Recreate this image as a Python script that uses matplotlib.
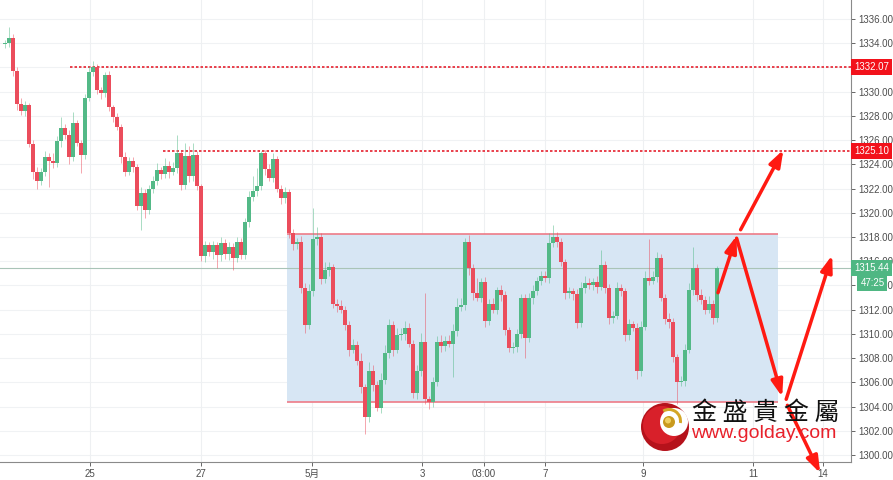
import numpy as np
import matplotlib
matplotlib.use("Agg")
import matplotlib.pyplot as plt
from matplotlib.patches import Circle, Wedge
from matplotlib import transforms

plt.rcParams['font.family'] = ['Liberation Sans', 'Noto Sans CJK TC']

# closes of each candle (opens follow the previous close)
first_open = 1333.9
closes = [
    1334.0, 1334.4, 1331.7, 1329.0, 1328.4, 1328.9, 1325.7, 1323.4, 1322.6, 1323.4,
    1324.6, 1324.3, 1324.1, 1325.9, 1327.0, 1326.4, 1324.6, 1327.4, 1325.8, 1324.8,
    1329.5, 1331.6, 1332.0, 1330.1, 1329.9, 1331.4, 1328.7, 1327.9, 1327.1, 1324.6,
    1323.4, 1324.3, 1323.8, 1320.6, 1321.6, 1320.2, 1322.0, 1322.6, 1323.5, 1323.2,
    1323.9, 1323.4, 1323.7, 1324.9, 1322.3, 1324.7, 1323.0, 1324.8, 1322.2, 1316.4,
    1317.3, 1316.8, 1317.3, 1316.5, 1317.5, 1316.6, 1317.2, 1316.3, 1317.6, 1316.5,
    1319.2, 1321.3, 1321.8, 1322.2, 1324.9, 1323.6, 1322.9, 1324.4, 1322.0, 1321.2,
    1321.7, 1318.3, 1317.4, 1317.6, 1313.8, 1310.7, 1313.5, 1317.8, 1318.0, 1314.5,
    1315.3, 1315.5, 1312.5, 1312.3, 1312.0, 1310.7, 1308.7, 1309.1, 1307.8, 1305.6,
    1303.1, 1306.9, 1305.8, 1303.9, 1306.2, 1308.4, 1310.7, 1308.7, 1309.9, 1310.0,
    1310.5, 1309.2, 1305.1, 1306.9, 1309.3, 1304.6, 1304.4, 1306.0, 1309.3, 1309.0,
    1309.4, 1309.2, 1310.2, 1312.2, 1312.4, 1317.6, 1315.4, 1313.4, 1313.0, 1314.3,
    1311.1, 1312.5, 1312.0, 1313.6, 1313.2, 1310.3, 1308.8, 1308.9, 1310.0, 1313.0,
    1309.7, 1313.0, 1313.5, 1314.4, 1314.8, 1314.6, 1317.5, 1318.0, 1317.6, 1315.9,
    1313.4, 1313.5, 1313.3, 1310.9, 1313.8, 1314.2, 1314.0, 1314.3, 1313.9, 1315.7,
    1313.8, 1311.3, 1311.5, 1313.8, 1313.5, 1309.9, 1310.8, 1310.5, 1306.9, 1310.6,
    1314.6, 1314.4, 1314.7, 1316.3, 1313.0, 1311.2, 1311.0, 1308.1, 1306.0, 1306.1,
    1308.7, 1313.6, 1315.4, 1313.2, 1312.8, 1312.0, 1312.5, 1311.3, 1315.44,
]
# wick lengths above / below the body
upper_wick = [
    0.3, 0.9, 0.4, 0.3, 0.5, 0.3, 0.2, 0.3, 0.4, 0.3,
    0.5, 0.3, 0.6, 0.4, 0.9, 0.3, 0.4, 0.9, 0.3, 0.2,
    0.3, 0.5, 0.5, 0.3, 0.3, 0.2, 0.3, 0.2, 0.3, 0.2,
    0.4, 0.3, 0.3, 0.2, 0.5, 0.4, 0.3, 0.4, 0.6, 0.3,
    0.6, 0.4, 0.5, 1.5, 0.3, 1.1, 0.8, 1.0, 0.3, 0.2,
    0.4, 0.3, 0.4, 0.3, 0.5, 0.3, 0.4, 0.3, 0.4, 0.3,
    0.4, 0.5, 1.2, 1.5, 0.2, 0.3, 0.4, 0.5, 0.3, 0.3,
    0.4, 0.3, 0.4, 0.3, 0.5, 0.4, 0.6, 2.6, 0.8, 0.3,
    0.6, 0.4, 0.3, 0.4, 0.5, 0.3, 0.4, 0.5, 0.3, 0.6,
    0.3, 0.8, 0.5, 0.3, 0.6, 0.7, 0.5, 0.4, 0.6, 0.5,
    0.6, 0.4, 0.3, 0.5, 0.8, 4.1, 0.3, 0.4, 0.5, 0.6,
    0.4, 0.5, 0.6, 0.8, 0.6, 0.3, 0.6, 0.4, 1.2, 0.3,
    0.4, 0.4, 0.5, 0.3, 0.4, 0.3, 0.3, 0.4, 0.4, 0.3,
    0.3, 0.4, 0.5, 0.3, 0.4, 0.4, 0.8, 1.0, 0.4, 0.3,
    0.3, 0.4, 0.3, 0.4, 0.5, 0.6, 0.4, 0.3, 0.5, 1.2,
    0.3, 0.3, 0.4, 0.5, 0.3, 0.3, 0.4, 0.3, 0.4, 0.5,
    0.6, 3.2, 0.5, 0.5, 0.3, 0.3, 0.5, 0.3, 0.2, 0.4,
    0.5, 0.6, 1.8, 0.4, 0.5, 0.3, 0.6, 0.3, 0.2,
]
lower_wick = [
    0.3, 0.3, 0.4, 0.5, 0.3, 0.4, 0.3, 0.6, 0.6, 0.3,
    0.4, 2.2, 0.4, 0.3, 0.5, 0.3, 0.6, 0.3, 0.3, 1.5,
    0.4, 0.3, 0.3, 0.3, 0.5, 0.3, 0.3, 0.4, 0.3, 0.5,
    0.4, 0.3, 0.4, 0.4, 2.0, 0.6, 0.3, 0.4, 0.3, 0.4,
    0.3, 0.5, 0.3, 0.4, 0.4, 0.3, 0.5, 0.4, 0.3, 0.4,
    0.5, 0.4, 0.6, 1.1, 0.5, 0.4, 0.5, 1.0, 0.4, 0.3,
    0.3, 0.4, 0.3, 0.4, 0.3, 0.5, 0.3, 0.4, 0.3, 0.5,
    0.4, 0.4, 0.5, 0.4, 0.4, 0.6, 0.3, 0.4, 0.5, 0.4,
    0.3, 0.5, 0.4, 0.5, 0.3, 0.4, 0.5, 0.3, 0.4, 0.5,
    1.4, 0.4, 0.5, 0.3, 0.4, 0.3, 0.4, 0.5, 0.3, 0.4,
    0.5, 0.3, 0.4, 0.5, 0.4, 0.4, 0.6, 0.4, 0.3, 0.5,
    0.4, 0.3, 2.8, 0.4, 0.3, 0.4, 0.5, 0.6, 0.3, 0.4,
    0.5, 0.4, 0.3, 0.4, 0.5, 0.4, 0.3, 0.4, 0.4, 0.3,
    1.7, 0.4, 0.5, 0.3, 0.4, 0.3, 0.4, 0.3, 0.4, 0.3,
    0.5, 0.4, 0.5, 0.4, 0.3, 0.4, 0.3, 0.4, 0.5, 0.3,
    0.4, 0.5, 0.4, 0.3, 0.4, 0.5, 0.4, 0.3, 0.6, 0.4,
    0.3, 0.4, 0.3, 0.4, 0.3, 0.4, 0.5, 0.4, 1.8, 0.3,
    0.4, 0.3, 0.4, 0.5, 0.3, 0.4, 0.3, 0.5, 0.3,
]

x_tick_pos = [21.25, 49, 76.75, 104.25, 119.75, 135, 159.5, 187, 204.5]
x_tick_labels = ['25', '27', '5月', '3', '03:00', '7', '9', '11', '14']
y_ticks = np.arange(1300, 1337, 2)
hidden_y_labels = [1332]   # sits under the 1332.07 tag

resist_hi = 1332.07
resist_lo = 1325.10
last_price = 1315.44
countdown = '47:25'
box_top, box_bottom = 1318.25, 1304.35
box_left, box_right = 70.5, 193.25

# forecast arrows: (start x, start y, end x, end y)
arrows = [
    (178.25, 1313.4, 182.9, 1318.1),
    (182.9, 1317.9, 194.3, 1304.8),
    (183.9, 1318.6, 194.6, 1325.2),
    (195.3, 1304.6, 206.8, 1316.5),
    (195.6, 1304.1, 203.8, 1298.5),
]

GREEN = '#53b987'
RED = '#eb4d5c'
LINE_RED = '#e5202e'

fig = plt.figure(figsize=(8.93, 4.80), dpi=100)
ax = fig.add_axes([0.0, 18 / 480, 851 / 893, 462 / 480])

idx = np.arange(len(closes))
c = np.array(closes)
o = np.concatenate([[first_open], c[:-1]])
hi = np.maximum(o, c) + np.array(upper_wick)
lo = np.minimum(o, c) - np.array(lower_wick)
col = np.where(c >= o, GREEN, RED)

# grid
for y in y_ticks:
    ax.axhline(y, color='#f0f2f4', lw=0.8, zorder=0)
for xt in x_tick_pos:
    ax.axvline(xt, color='#eef0f2', lw=0.8, zorder=0)

# range box
ax.fill_between([box_left, box_right], box_bottom, box_top, color='#d7e6f4', zorder=1, lw=0)
ax.hlines([box_top, box_bottom], box_left, box_right, color='#ee7b87', lw=1.2, zorder=2)

ax.axhline(last_price, color='#a9c4b7', lw=0.8, zorder=2)

ax.hlines(resist_hi, 16.25, 211.5, color=LINE_RED, lw=1.2, linestyles=(0, (1.5, 1.2)), zorder=3)
ax.hlines(resist_lo, 39.5, 211.5, color=LINE_RED, lw=1.2, linestyles=(0, (1.5, 1.2)), zorder=3)

ax.vlines(idx, lo, hi, colors=col, lw=0.7, alpha=0.5, zorder=3)
body = np.where(np.abs(c - o) < 0.12, 0.12, c - o)
ax.bar(idx, body, bottom=o, width=0.82, color=col, lw=0, zorder=4)

for x0, y0, x1, y1 in arrows:
    ax.annotate('', xy=(x1, y1), xytext=(x0, y0),
                arrowprops=dict(arrowstyle='-|>,head_length=1.0,head_width=0.35',
                                color='#ff1a12', lw=2.5, shrinkA=0, shrinkB=0),
                annotation_clip=False, zorder=6)

ax.set_xlim(-1.25, 211.5)
ax.set_ylim(1299.42, 1337.57)

ax.yaxis.tick_right()
ax.set_yticks(y_ticks)
ax.set_yticklabels(['' if v in hidden_y_labels else '%.2f' % v for v in y_ticks])
ax.set_xticks(x_tick_pos)
ax.set_xticklabels(x_tick_labels)
ax.tick_params(axis='y', labelsize=7, colors='#4d4d4d', length=3, width=0.6, pad=2)
ax.tick_params(axis='x', labelsize=7, colors='#4d4d4d', length=3, width=0.6, pad=2)
for s in ['top', 'left']:
    ax.spines[s].set_visible(False)
ax.spines['right'].set_color('#8a8a8a')
ax.spines['bottom'].set_color('#8a8a8a')

trans = transforms.blended_transform_factory(ax.transAxes, ax.transData)
for val, fc in [(resist_hi, '#f2121b'), (resist_lo, '#f2121b'), (last_price, '#4fb783')]:
    ax.text(1.004, val, '%.2f' % val, transform=trans, fontsize=7, color='white',
            va='center', ha='left', zorder=10, clip_on=False,
            bbox=dict(boxstyle='square,pad=0.3', fc=fc, ec='none'))
ax.text(1.011, last_price - 1.25, countdown, transform=trans, fontsize=7, color='white',
        va='center', ha='left', zorder=10, clip_on=False,
        bbox=dict(boxstyle='square,pad=0.3', fc='#4fb783', ec='none'))

# watermark logo
lg = fig.add_axes([(665 - 26) / 893, 1 - (427 + 26) / 480, 52 / 893, 52 / 480])
lg.set_xlim(-26, 26)
lg.set_ylim(-26, 26)
lg.axis('off')
lg.add_patch(Circle((0, 0), 24, fc='#b5121b', ec='none'))
lg.add_patch(Circle((-3, 2), 19, fc='#d8202a', ec='none'))
lg.add_patch(Circle((9, 5), 14, fc='white', ec='none'))
lg.add_patch(Wedge((4, 6), 13, -10, 120, width=3, fc='#d4a628', ec='none'))
lg.add_patch(Circle((4, 5), 6, fc='#c99a1e', ec='none'))
lg.add_patch(Circle((3, 6.5), 3, fc='#f0d060', ec='none'))

fig.text(692 / 893, 1 - 413 / 480, '金 盛 貴 金 屬', fontsize=18, color='#111111',
         family=['Noto Sans CJK TC'], va='center', ha='left')
fig.text(691 / 893, 1 - 434 / 480, 'www.golday.com', fontsize=14, color='#e8202a',
         va='center', ha='left')

fig.savefig('out.png', dpi=100)
